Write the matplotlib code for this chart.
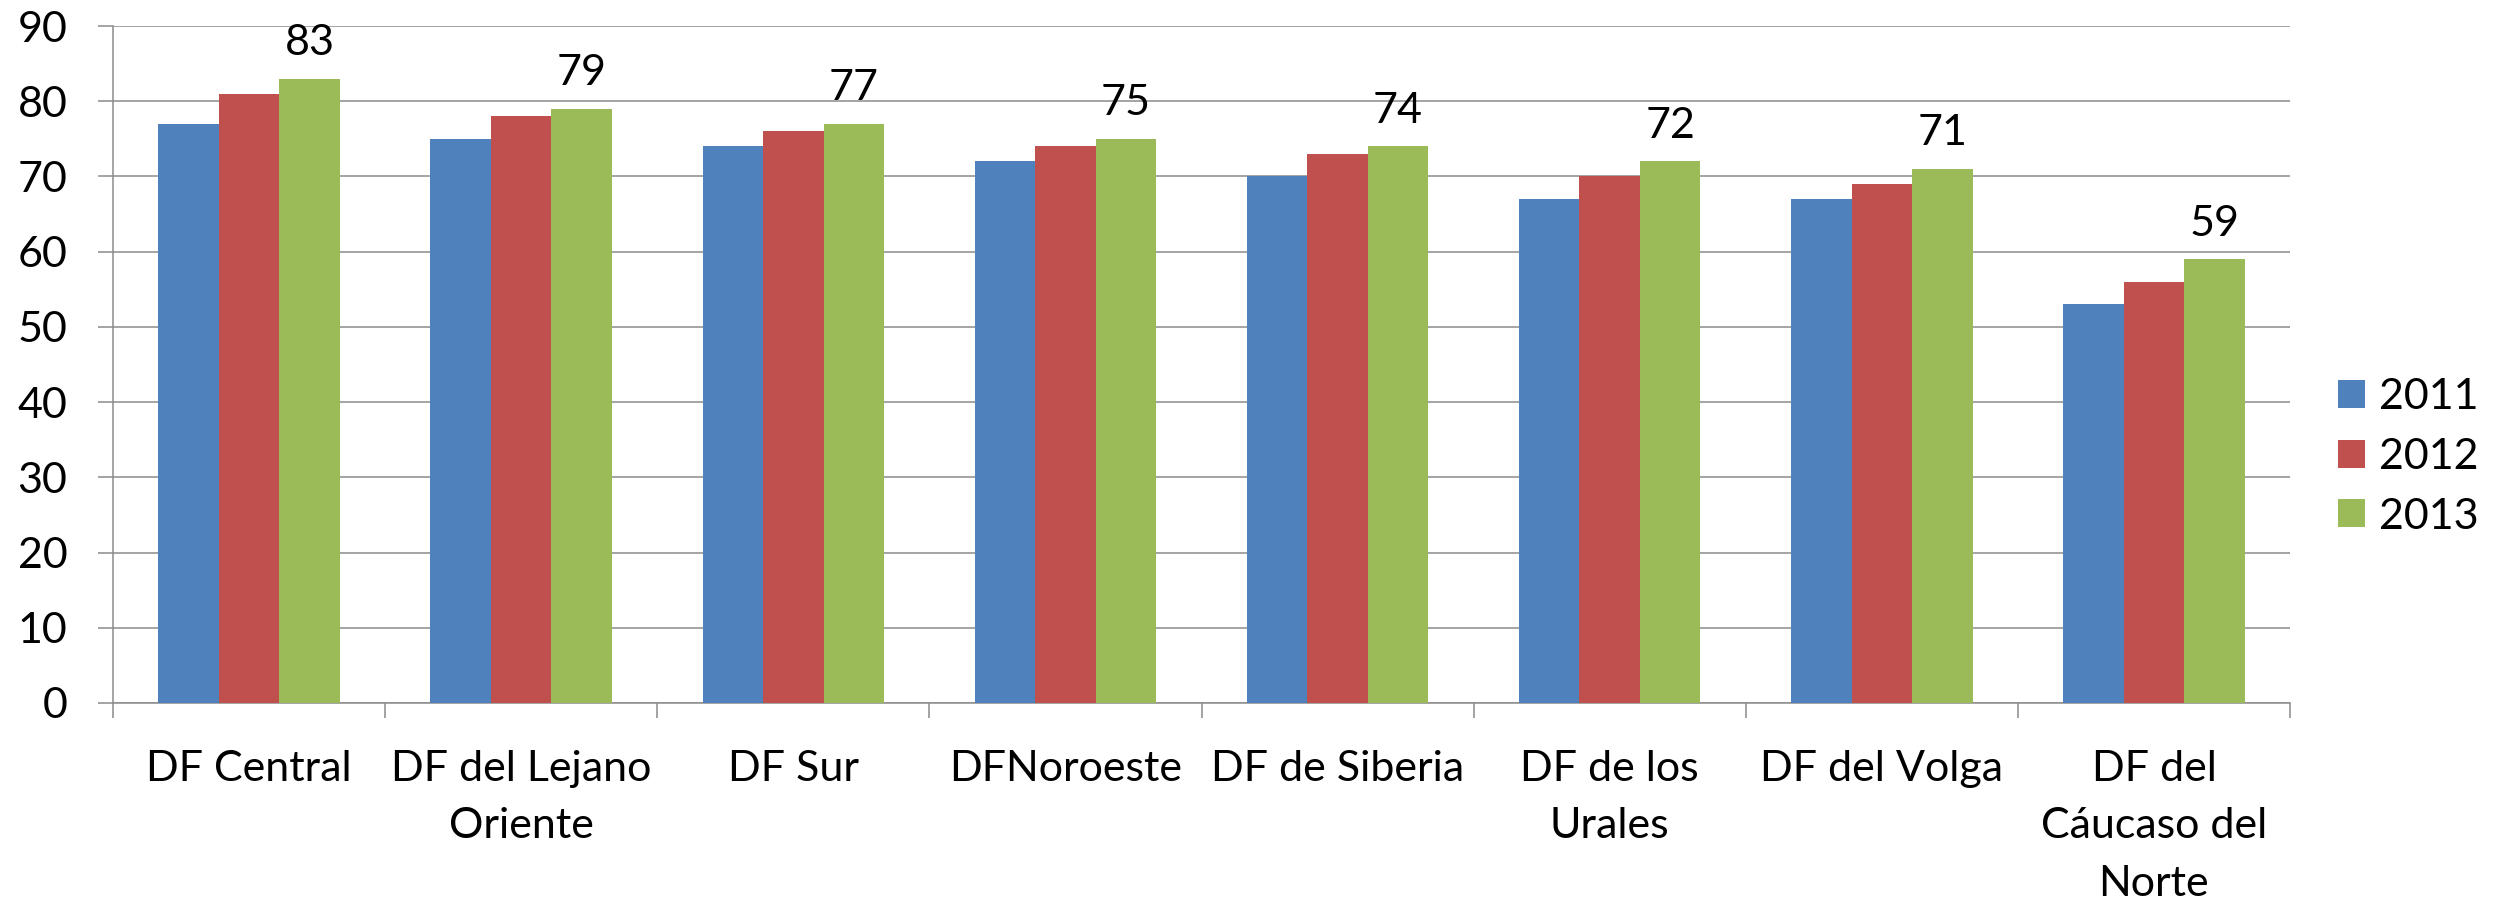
import matplotlib
matplotlib.use("Agg")
import matplotlib.pyplot as plt
import numpy as np

categories = ["DF Central", "DF del Lejano\nOriente", "DF Sur", "DFNoroeste",
              "DF de Siberia", "DF de los\nUrales", "DF del Volga",
              "DF del\nCáucaso del\nNorte"]
series_names = ["2011", "2012", "2013"]
v2011 = [77, 75, 74, 72, 70, 67, 67, 53]
v2012 = [81, 78, 76, 74, 73, 70, 69, 56]
v2013 = [83, 79, 77, 75, 74, 72, 71, 59]
yticks = list(range(0, 91, 10))

colors = ["#4F81BD", "#C0504D", "#9BBB59"]
grid_c = "#8C8C8C"

plt.rcParams['font.family'] = ['Lato', 'DejaVu Sans']
FS = 31

W, H = 2504, 902
fig = plt.figure(figsize=(W / 100, H / 100), dpi=100)
ax = fig.add_axes([113 / W, 1 - 703 / H, (2290 - 113) / W, (703 - 26) / H])

x = np.arange(len(categories))
bw = 60.5 / 272
series = [v2011, v2012, v2013]
for i, (vals, c, name) in enumerate(zip(series, colors, series_names)):
    ax.bar(x + (i - 1) * bw, vals, width=bw, color=c, label=name, zorder=3,
           linewidth=0)

for xi, v in zip(x, v2013):
    ax.annotate(str(v), xy=(xi + bw, v), xytext=(0, 17), textcoords="offset points",
                ha="center", va="baseline", fontsize=FS, color="black")

ax.set_xlim(-0.5, len(categories) - 0.5)
ax.set_ylim(0, 90)
ax.set_yticks(yticks)
ax.set_yticklabels([str(t) for t in yticks], fontsize=FS)
ax.set_xticks(x)
ax.set_xticklabels(categories, fontsize=FS, linespacing=1.62)
ax.set_xticks(np.arange(-0.5, len(categories), 1.0), minor=True)

ax.tick_params(axis="x", which="major", length=0, pad=34)
ax.tick_params(axis="x", which="minor", length=10.8, width=1.1, color=grid_c)
ax.tick_params(axis="y", which="major", length=10.8, width=1.1, color=grid_c, pad=22)

ax.yaxis.grid(True, color=grid_c, linewidth=1.1, zorder=0)
ax.set_axisbelow(True)
for s in ["top", "right"]:
    ax.spines[s].set_visible(False)
for s in ["left", "bottom"]:
    ax.spines[s].set_color(grid_c)
    ax.spines[s].set_linewidth(1.1)

fig.legend(loc="center left", bbox_to_anchor=(2338 / W, 1 - 457 / H),
           frameon=False, fontsize=FS, handlelength=0.63, handleheight=0.63,
           handletextpad=0.33, labelspacing=0.5, borderpad=0, borderaxespad=0)

fig.savefig("out.png", dpi=100)
